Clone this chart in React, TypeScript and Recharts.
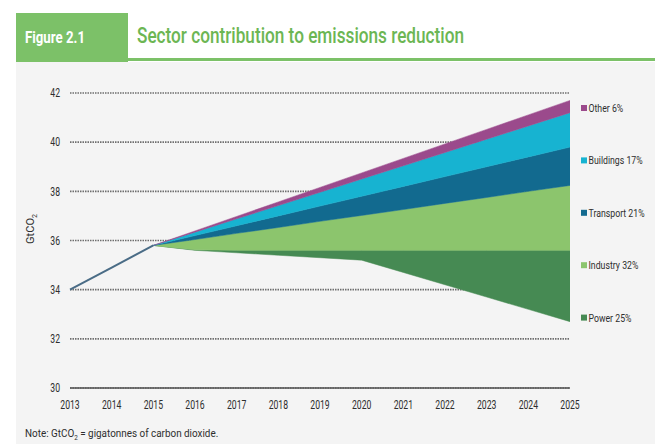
import React from 'react';
import { ComposedChart, Area, Line, XAxis, YAxis, CartesianGrid } from 'recharts';

const years = [2013, 2014, 2015, 2016, 2017, 2018, 2019, 2020, 2021, 2022, 2023, 2024, 2025];
// emissions pathway after reductions (bottom of the Power wedge)
const pathway = [34.0, 34.9, 35.8, 35.6, 35.5, 35.4, 35.3, 35.2, 34.7, 34.2, 33.7, 33.2, 32.7];
const powerTop = [null, null, 35.8, 35.62, 35.6, 35.6, 35.6, 35.6, 35.6, 35.6, 35.6, 35.6, 35.6];
const industryTop = [null, null, 35.8, 36.04, 36.29, 36.53, 36.78, 37.02, 37.26, 37.51, 37.75, 38.0, 38.24];
const transportTop = [null, null, 35.8, 36.2, 36.6, 37.0, 37.4, 37.8, 38.2, 38.6, 39.0, 39.4, 39.8];
const buildingsTop = [null, null, 35.8, 36.34, 36.88, 37.42, 37.96, 38.5, 39.04, 39.58, 40.12, 40.66, 41.2];
const otherTop = [null, null, 35.8, 36.39, 36.98, 37.57, 38.16, 38.75, 39.34, 39.93, 40.52, 41.11, 41.7];

const sectorNames = ['Power', 'Industry', 'Transport', 'Buildings', 'Other'];
const sectorShares = ['25%', '32%', '21%', '17%', '6%'];
const sectorColors = ['#468a53', '#8cc56d', '#126a8f', '#17b3d1', '#9b4a8c'];
const yTicks = [30, 32, 34, 36, 38, 40, 42];

const boundaries = [pathway, powerTop, industryTop, transportTop, buildingsTop, otherTop];

const data = years.map((year, i) => {
  const row: any = { year, hist: i <= 2 ? pathway[i] : null };
  sectorNames.forEach((name, k) => {
    const lo = boundaries[k][i];
    const hi = boundaries[k + 1][i];
    row[name] = lo == null || hi == null ? null : [lo, hi];
  });
  return row;
});

const FONT = "Roboto, 'Liberation Sans', sans-serif";

const XTick = (props: any) => {
  const { x, y, payload } = props;
  return (
    <g transform={`translate(${x},${y}) scale(0.72,1)`}>
      <text x={0} y={0} dy="0.71em" textAnchor="middle" fill="#2e2e2e" fontSize={12} fontFamily={FONT}>
        {payload.value}
      </text>
    </g>
  );
};

const YTick = (props: any) => {
  const { x, y, payload } = props;
  return (
    <g transform={`translate(${x},${y}) scale(0.72,1)`}>
      <text x={0} y={0} dy="0.355em" textAnchor="end" fill="#2e2e2e" fontSize={12} fontFamily={FONT}>
        {payload.value}
      </text>
    </g>
  );
};

const LegendBox = () => {
  const items = sectorNames.map((n, i) => ({ n, s: sectorShares[i], c: sectorColors[i] })).reverse();
  return (
    <svg width={655} height={444} style={{ position: 'absolute', left: 0, top: 0, pointerEvents: 'none' }}>
      {items.map((it, i) => {
        const cy = 108 + i * 52.4;
        return (
          <g key={it.n}>
            <rect x={581} y={cy - 3} width={6} height={6} fill={it.c} />
            <g transform={`translate(588.5,${cy}) scale(0.76,1)`}>
              <text x={0} y={0} dy="0.355em" fill="#2e2e2e" fontSize={11.5} fontFamily={FONT}>
                {it.n} {it.s}
              </text>
            </g>
          </g>
        );
      })}
    </svg>
  );
};

export default function App() {
  return (
    <div style={{ position: 'absolute', left: 0, top: 0, width: 655, height: 444, background: '#ffffff', overflow: 'hidden' }}>
      <svg width={655} height={444} style={{ position: 'absolute', left: 0, top: 0 }}>
        <rect x={16} y={62} width={639} height={382} fill="#f4f4f4" />
        <rect x={16} y={13} width={112} height={49} fill="#7cc168" />
        <rect x={128} y={58} width={527} height={3} fill="#7cc168" />
        <text x={25} y={43} fill="#ffffff" fontFamily={FONT} fontWeight="bold" fontSize={17} textLength={60} lengthAdjust="spacingAndGlyphs">
          Figure 2.1
        </text>
        <text x={137} y={43} fill="#6cb653" fontFamily={FONT} fontWeight={500} fontSize={22} textLength={327} lengthAdjust="spacingAndGlyphs">
          Sector contribution to emissions reduction
        </text>
        <text transform="translate(34,229) rotate(-90)" textAnchor="middle" fill="#2e2e2e" fontFamily={FONT} fontSize={11}>
          GtCO<tspan fontSize={7} dy={3}>2</tspan>
        </text>
        <g transform="translate(25,437) scale(0.9,1)">
          <text x={0} y={0} fill="#2e2e2e" fontFamily={FONT} fontSize={11}>
            Note: GtCO<tspan fontSize={7} dy={3}>2</tspan><tspan dy={-3}> = gigatonnes of carbon dioxide.</tspan>
          </text>
        </g>
      </svg>
      <div style={{ position: 'absolute', left: 0, top: 0 }}>
        <ComposedChart width={655} height={444} data={data} margin={{ top: 93, right: 85, bottom: 26, left: 10 }}>
          <CartesianGrid vertical={false} stroke="#6e6e6e" strokeWidth={1.6} strokeDasharray="1.5 1" />
          <XAxis
            dataKey="year"
            type="number"
            domain={[2013, 2025]}
            ticks={years}
            interval={0}
            axisLine={{ stroke: '#555', strokeWidth: 1.5 }}
            tickLine={false}
            tickSize={0}
            tickMargin={12}
            height={30}
            tick={<XTick />}
          />
          <YAxis
            type="number"
            domain={[30, 42]}
            ticks={yTicks}
            interval={0}
            axisLine={false}
            tickLine={false}
            tickSize={0}
            tickMargin={10}
            width={60}
            tick={<YTick />}
          />
          {sectorNames.map((name, k) => (
            <Area
              key={name}
              dataKey={name}
              type="linear"
              fill={sectorColors[k]}
              fillOpacity={1}
              stroke={sectorColors[k]}
              strokeWidth={0.5}
              isAnimationActive={false}
              dot={false}
              activeDot={false}
            />
          ))}
          <Line dataKey="hist" type="linear" stroke="#4a6c86" strokeWidth={2} dot={false} isAnimationActive={false} legendType="none" />
        </ComposedChart>
      </div>
      <LegendBox />
    </div>
  );
}
